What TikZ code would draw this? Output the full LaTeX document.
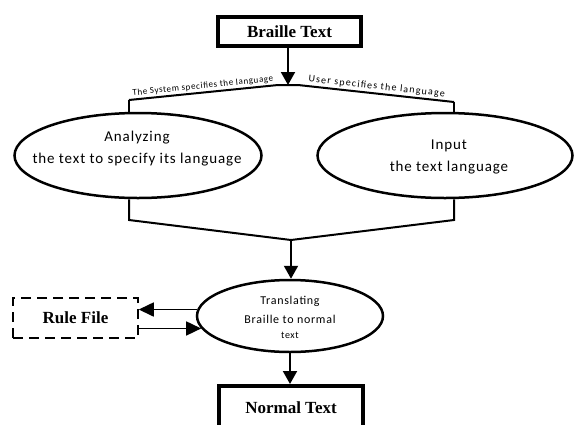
\documentclass[tikz,border=0pt]{standalone}
\usepackage{fontspec}
\setmainfont{Liberation Serif}
\newfontfamily\elfont[LetterSpace=6]{Carlito}
\newfontfamily\labfontL[LetterSpace=7]{Carlito}
\newfontfamily\labfontR[LetterSpace=12]{Carlito}
\usetikzlibrary{arrows.meta,shapes.geometric}
\tikzset{
  tbox/.style={draw, line width=4pt, rectangle, inner sep=0pt, fill=white,
    font=\bfseries\fontsize{17}{20}\selectfont},
  rulebox/.style={draw, line width=1.5pt, dash pattern=on 10pt off 6pt, rectangle,
    inner sep=0pt, font=\bfseries\fontsize{17}{20}\selectfont},
  ell/.style={draw, ellipse, line width=2.5pt, inner sep=0pt, fill=white},
  eltext/.style={align=center, inner sep=0pt, font=\elfont\fontsize{15}{22}\selectfont},
  trtext/.style={align=center, inner sep=0pt, font=\elfont\fontsize{12}{19}\selectfont},
  ln/.style={line width=2pt},
  arr/.style={line width=2pt, -{Triangle[length=13pt,width=14pt]}},
  sarr/.style={line width=1.6pt, -{Triangle[length=15pt,width=14pt]}},
  labL/.style={inner sep=1.5pt, font=\labfontL\fontsize{9}{10}\selectfont},
  labR/.style={inner sep=1.5pt, font=\labfontR\fontsize{10}{11}\selectfont},
}
\begin{document}
\begin{tikzpicture}[x=1pt,y=-1pt]
\useasboundingbox[fill=white] (0,0) rectangle (574,424);

% coordinates of the branching lines
\coordinate (pk) at (288,85);
\coordinate (pl) at (278,85);
\coordinate (pr) at (298,85);
\coordinate (bl) at (129,100);
\coordinate (br) at (454,102);
\coordinate (ml) at (129,220);
\coordinate (mr) at (454,220);
\coordinate (mg) at (291,240);

% nodes
\node[tbox, minimum width=143pt, minimum height=29pt] (braille) at (289.5,31.5) {Braille Text};
\node[ell, minimum width=247pt, minimum height=85pt] (an) at (138,155.5) {};
\node[eltext] (antext) at (137,149) {Analyzing\\the text to specify its language};
\node[ell, minimum width=255pt, minimum height=85pt] (inp) at (445,155.5) {};
\node[eltext] (inptext) at (449,157) {Input\\the text language};
\node[ell, minimum width=186pt, minimum height=72pt] (trans) at (290,316) {};
\node[trtext] (transtext) at (290,317) {Translating\\Braille to normal\\[-4pt]{\fontsize{10}{12}\selectfont text}};
\node[rulebox, minimum width=125pt, minimum height=40pt] (rule) at (75.5,318) {Rule File};
\node[tbox, minimum width=144pt, minimum height=44pt] (normal) at (291,408) {Normal Text};

% connectors
\draw[arr] (braille.south -| pk) -- (pk);
\draw[ln] (bl) -- node[labL, above, sloped, pos=0.5] {The System specifies the language} (pl)
  -- (pr) -- node[labR, above, sloped, pos=0.5] {User specifies the language} (br);
\draw[ln] (bl) -- (bl |- an.north);
\draw[ln] (br) -- (br |- inp.north);
\draw[ln] (bl |- an.south) -- (ml) -- (mg) -- (mr) -- (br |- inp.south);
\draw[arr] (mg) -- (mg |- trans.north);
\draw[sarr] (trans.176) -- (trans.176 -| rule.east);
\draw[sarr] (rule.east |- trans.188) -- (trans.188);
\draw[arr] (trans.south) -- (trans.south |- normal.north);
\end{tikzpicture}
\end{document}
